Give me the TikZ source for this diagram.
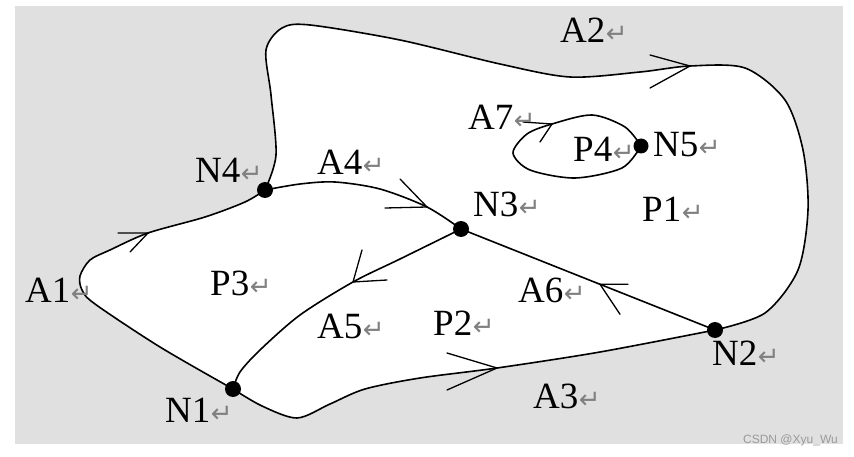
\documentclass[tikz,border=0pt]{standalone}
\usepackage{fontspec}
\setmainfont{Liberation Serif}
\newfontfamily\dejavu{DejaVu Sans}
\newfontfamily\wmfont{Liberation Sans}
\usetikzlibrary{calc}
\definecolor{bggray}{HTML}{E0E0E0}
\definecolor{retgray}{HTML}{808080}
\definecolor{wmgray}{HTML}{9A9A9A}
\newcommand{\ret}{\hspace{0.5pt}{\color{retgray}\dejavu\fontsize{26}{26}\selectfont ↵}}
\begin{document}
\begin{tikzpicture}[x=1pt,y=-1pt,
  edge/.style={line width=1.6pt, line join=round, line cap=round},
  barb/.style={line width=1.3pt, line cap=round, line join=miter},
  dot/.style={circle, fill=black, inner sep=0pt, minimum size=16pt},
  lab/.style={anchor=base west, inner sep=0pt, font=\fontsize{37}{40}\selectfont}]
\useasboundingbox (0,0) rectangle (854,457);
\fill[white] (0,0) rectangle (854,457);
\fill[bggray] (15,6) rectangle (843,444);

% node positions
\coordinate (N1) at (233,389);
\coordinate (N2) at (715,330);
\coordinate (N3) at (461,229);
\coordinate (N4) at (265,190);
\coordinate (N5) at (641,146);
% arrow tips on the arcs
\coordinate (tA1) at (148,233);
\coordinate (tA2) at (690,66);
\coordinate (tA3) at (497,368);
\coordinate (tA4) at (427,207);
\coordinate (tA5) at (353,282);
\coordinate (tA6) at (600,284.3);
\coordinate (tA7) at (552,124);

% white interior (A2 + A3 + A1)
\fill[white] plot[smooth] coordinates {(N4) (276,155) (271,95) (266,50) (282,28) (310,25) (400,40) (500,64) (570,77) (640,72) (tA2) (745,68) (785,100) (803,150) (808,210) (798,270) (765,313) (N2)}
  -- plot[smooth] coordinates {(N2) (600,352) (tA3) (420,378) (365,389) (330,404) (297,418) (262,406) (N1)}
  -- plot[smooth] coordinates {(N1) (160,347) (95,304) (82,290) (80,276) (90,260) (110,250) (tA1) (205,217) (245,202) (N4)} -- cycle;

% arcs
\draw[edge] plot[smooth] coordinates {(N4) (276,155) (271,95) (266,50) (282,28) (310,25) (400,40) (500,64) (570,77) (640,72) (tA2) (745,68) (785,100) (803,150) (808,210) (798,270) (765,313) (N2)};
\draw[edge] plot[smooth] coordinates {(N1) (262,406) (297,418) (330,404) (365,389) (420,378) (tA3) (600,352) (N2)};
\draw[edge] plot[smooth] coordinates {(N1) (160,347) (95,304) (82,290) (80,276) (90,260) (110,250) (tA1) (205,217) (245,202) (N4)};
\draw[edge] plot[smooth] coordinates {(N4) (300,184) (335,182) (380,189) (tA4) (N3)};
\draw[edge] plot[smooth] coordinates {(N3) (400,259) (tA5) (300,315) (260,350) (240,372) (N1)};
\draw[edge] (N2) -- (tA6) -- (N3);
\draw[edge] plot[smooth] coordinates {(N5) (622,168) (575,178) (530,170) (513,153) (527,134) (tA7) (592,115) (625,127) (N5)};

% arrowheads
\draw[barb] ($(tA1)+(-30,0)$) -- (tA1) -- ($(tA1)+(-18,19)$);
\draw[barb] ($(tA2)+(-40,-11)$) -- (tA2) -- ($(tA2)+(-40,22)$);
\draw[barb] ($(tA3)+(-50,-15)$) -- (tA3) -- ($(tA3)+(-50,22)$);
\draw[barb] ($(tA4)+(-27,-28)$) -- (tA4) -- ($(tA4)+(-42,1)$);
\draw[barb] ($(tA5)+(9,-32)$) -- (tA5) -- ($(tA5)+(34,-2)$);
\draw[barb] ($(tA6)+(28,0)$) -- (tA6) -- ($(tA6)+(20,30)$);
\draw[barb] ($(tA7)+(-29,-2)$) -- (tA7) -- ($(tA7)+(-12,18)$);

% vertex dots
\node[dot] (dN1) at (N1) {};
\node[dot] (dN2) at (N2) {};
\node[dot] (dN3) at (N3) {};
\node[dot] (dN4) at (N4) {};
\node[dot, minimum size=15pt] (dN5) at (N5) {};

% labels
\node[lab] (lN4) at (195,183) {N4\ret};
\node[lab] (lA4) at (317,175) {A4\ret};
\node[lab] (lA7) at (468,130) {A7\ret};
\node[lab] (lA2) at (560,43) {A2\ret};
\node[lab] (lN3) at (473,217) {N3\ret};
\node[lab] (lP4) at (573,162) {P4\ret};
\node[lab] (lN5) at (653,157) {N5\ret};
\node[lab] (lP1) at (642,222) {P1\ret};
\node[lab] (lA1) at (25,302) {A1\ret};
\node[lab] (lP3) at (210,295) {P3\ret};
\node[lab] (lA5) at (317,338) {A5\ret};
\node[lab] (lP2) at (433,335) {P2\ret};
\node[lab] (lA6) at (518,302) {A6\ret};
\node[lab] (lN2) at (712,365) {N2\ret};
\node[lab] (lA3) at (533,408) {A3\ret};
\node[lab] (lN1) at (165,422) {N1\ret};
\node[anchor=base east, inner sep=0pt, text=wmgray, font=\wmfont\fontsize{12}{12}\selectfont] (wm) at (838,443) {CSDN @Xyu\_Wu};
\end{tikzpicture}
\end{document}
